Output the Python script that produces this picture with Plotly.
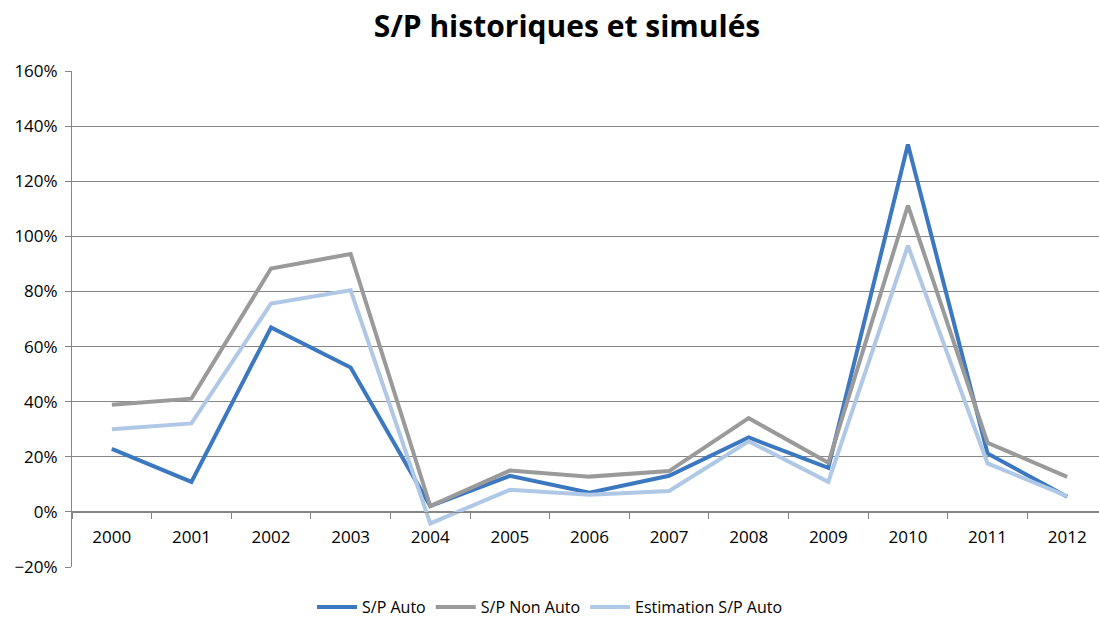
import plotly.graph_objects as go

years = ["2000", "2001", "2002", "2003", "2004", "2005", "2006", "2007", "2008", "2009", "2010", "2011", "2012"]
sp_auto = [22.9, 10.9, 66.9, 52.4, 2.1, 13.1, 7.0, 13.1, 27.0, 16.0, 133.3, 21.2, 5.5]
sp_non_auto = [38.9, 41.1, 88.3, 93.6, 2.1, 15.0, 12.8, 14.8, 34.0, 17.8, 111.2, 25.1, 12.7]
est_sp_auto = [30.0, 32.1, 75.6, 80.4, -4.2, 8.0, 6.2, 7.6, 25.6, 10.9, 96.6, 17.6, 5.7]

series = [
    ("S/P Auto", sp_auto, "#3B78C0"),
    ("S/P Non Auto", sp_non_auto, "#9A9A9A"),
    ("Estimation S/P Auto", est_sp_auto, "#AFC8E6"),
]

fig = go.Figure()
for name, vals, col in series:
    fig.add_trace(go.Scatter(x=years, y=vals, name=name, mode="lines",
                             line=dict(color=col, width=4)))

y_min, y_max = -20, 160
zero_pos = (0 - y_min) / (y_max - y_min)

W, H = 1099, 619
fig.update_layout(
    width=W, height=H,
    margin=dict(l=72, r=0, t=71, b=52, autoexpand=False),
    paper_bgcolor="white", plot_bgcolor="white",
    font=dict(family="Open Sans, Lato, sans-serif", size=16, color="#000000"),
    title=dict(text="<b>S/P historiques et simulés</b>", x=0.516, xanchor="center",
               y=1 - 26 / H, yanchor="middle", font=dict(size=30, color="#000000")),
    showlegend=True,
    legend=dict(orientation="h", x=0.465, xanchor="center", y=-40 / 496, yanchor="middle",
                font=dict(size=16), itemwidth=40, traceorder="normal"),
    xaxis=dict(type="category", range=[-0.5, 12.4], anchor="free", position=zero_pos,
               showline=True, linecolor="#868686", linewidth=1,
               ticks="outside", tickson="boundaries", ticklen=6, tickcolor="#868686",
               ticklabelstandoff=10,
               showgrid=False, tickfont=dict(size=17), fixedrange=True),
    yaxis=dict(range=[y_min, y_max], dtick=20, ticksuffix="%",
               showline=True, linecolor="#868686", linewidth=1,
               ticks="outside", ticklen=6, tickcolor="#868686",
               ticklabelstandoff=4,
               showgrid=True, gridcolor="#868686", gridwidth=1,
               zeroline=False, tickfont=dict(size=17)),
)

fig.write_html(
    "out.html",
    config={"displayModeBar": False},
    post_script="document.body.style.margin='0';document.body.style.overflow='hidden';",
)
